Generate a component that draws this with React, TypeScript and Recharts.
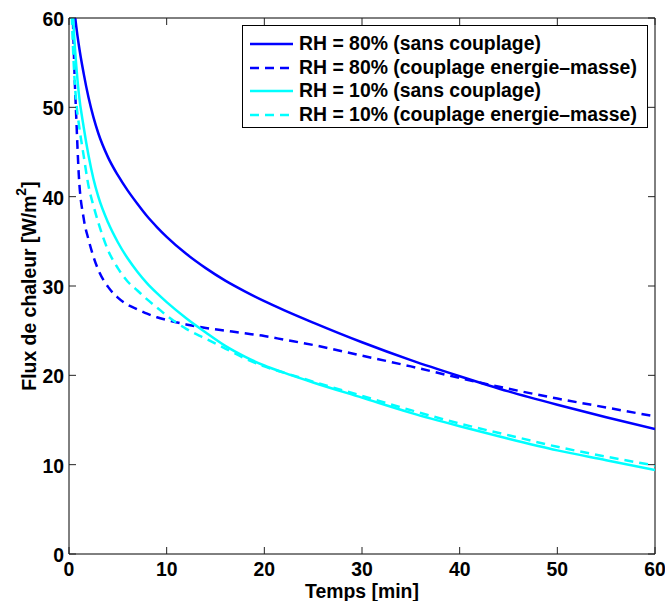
import React from 'react';
import { LineChart, Line, XAxis, YAxis, Legend, ReferenceLine } from 'recharts';

// ---- data ----
const TIMES = [0, 0.25, 0.5, 0.75, 1, 1.5, 2, 2.5, 3, 4, 5, 6, 7, 8, 9, 10, 12, 14, 16, 18, 20, 22, 25, 30, 35, 40, 45, 50, 55, 60];
const RH80_SANS = [70, 65, 61.5, 59.0, 57.0, 53.8, 51.1, 48.9, 47.1, 44.4, 42.4, 40.7, 39.2, 37.8, 36.6, 35.5, 33.6, 32.0, 30.6, 29.4, 28.3, 27.3, 25.9, 23.7, 21.7, 19.9, 18.2, 16.7, 15.3, 14.0];
const RH80_COUPL = [90, 68, 56, 48.7, 42.5, 37.6, 35.2, 33.3, 31.8, 29.9, 28.7, 27.9, 27.4, 26.9, 26.5, 26.2, 25.7, 25.3, 25.0, 24.7, 24.4, 24.0, 23.4, 22.2, 21.0, 19.7, 18.5, 17.4, 16.4, 15.4];
const RH10_SANS = [72, 64, 58.5, 54.6, 51.6, 47.8, 44.6, 42.0, 40.0, 37.1, 34.9, 33.1, 31.6, 30.3, 29.2, 28.2, 26.4, 24.8, 23.3, 22.1, 21.1, 20.3, 19.2, 17.5, 15.8, 14.3, 12.9, 11.6, 10.5, 9.4];
const RH10_COUPL = [72, 61.5, 54.5, 50.5, 48.2, 44.6, 41.2, 39.0, 37.1, 34.0, 32.0, 30.5, 29.5, 28.5, 27.6, 26.7, 25.2, 24.1, 23.0, 21.9, 21.0, 20.3, 19.3, 17.7, 16.1, 14.6, 13.3, 12.0, 10.9, 9.9];

const X_TICKS = [0, 10, 20, 30, 40, 50, 60];
const Y_TICKS = [0, 10, 20, 30, 40, 50, 60];

const SERIES = [
  { key: 'a', name: 'RH = 80% (sans couplage)', color: '#0000FF', dash: undefined as string | undefined, values: RH80_SANS },
  { key: 'b', name: 'RH = 80% (couplage energie\u2013masse)', color: '#0000FF', dash: '9 6', values: RH80_COUPL },
  { key: 'c', name: 'RH = 10% (sans couplage)', color: '#00FFFF', dash: undefined as string | undefined, values: RH10_SANS },
  { key: 'd', name: 'RH = 10% (couplage energie\u2013masse)', color: '#00FFFF', dash: '9 6', values: RH10_COUPL },
];

const data = TIMES.map((t, i) => {
  const row: Record<string, number> = { t };
  SERIES.forEach((s) => { row[s.key] = s.values[i]; });
  return row;
});

// ---- layout ----
const W = 665;
const H = 601;
const MARGIN = { top: 18, right: 10, bottom: 0, left: 0 };
const Y_AXIS_W = 69;
const X_AXIS_H = 47;
const PLOT_W = W - MARGIN.right - Y_AXIS_W;
const PLOT_H = H - MARGIN.top - X_AXIS_H;
const TICK_LEN = 7;
const FONT = '"Liberation Sans", Arial, Helvetica, sans-serif';
const FS = 19.4;
const textStyle: React.CSSProperties = { fontFamily: FONT, fontWeight: 'bold', fontSize: FS };

const XTick = (props: any) => {
  const { x, y, payload } = props;
  return (
    <g>
      <line x1={x} y1={y} x2={x} y2={y - TICK_LEN} stroke="#222" strokeWidth={1} />
      <line x1={x} y1={y - PLOT_H} x2={x} y2={y - PLOT_H + TICK_LEN} stroke="#222" strokeWidth={1} />
      <text x={x} y={y + 8} dy="0.71em" textAnchor="middle" fill="#000" style={textStyle}>{payload.value}</text>
    </g>
  );
};

const YTick = (props: any) => {
  const { x, y, payload } = props;
  return (
    <g>
      <line x1={x} y1={y} x2={x + TICK_LEN} y2={y} stroke="#222" strokeWidth={1} />
      <line x1={x + PLOT_W} y1={y} x2={x + PLOT_W - TICK_LEN} y2={y} stroke="#222" strokeWidth={1} />
      <text x={x - 5} y={y + 1} dy="0.355em" textAnchor="end" fill="#000" style={textStyle}>{payload.value}</text>
    </g>
  );
};

const XLabel = () => (
  <text x={Y_AXIS_W + PLOT_W / 2} y={H - 3} textAnchor="middle" fill="#000" style={textStyle}>Temps [min]</text>
);

const YLabel = () => {
  const cx = 29;
  const cy = MARGIN.top + PLOT_H / 2;
  return (
    <text x={cx} y={cy} transform={`rotate(-90 ${cx} ${cy})`} textAnchor="middle" dominantBaseline="central" fill="#000" style={textStyle}>
      Flux de chaleur [W/m<tspan dy={-8} fontSize={14}>2</tspan><tspan dy={8}>]</tspan>
    </text>
  );
};

const LegendBox = () => (
  <div
    style={{
      boxSizing: 'border-box',
      width: 406,
      height: 103,
      border: '1px solid #000',
      background: '#fff',
      paddingTop: 6,
      fontFamily: FONT,
      fontWeight: 'bold',
      fontSize: FS,
      color: '#000',
    }}
  >
    {SERIES.map((s) => (
      <div key={s.key} style={{ display: 'flex', alignItems: 'center', height: 23.7, whiteSpace: 'nowrap' }}>
        <svg width={56} height={10} style={{ flex: 'none', display: 'block' }}>
          <line x1={7} y1={5} x2={50} y2={5} stroke={s.color} strokeWidth={2.5} strokeDasharray={s.dash} />
        </svg>
        <span style={{ lineHeight: '23.7px' }}>{s.name}</span>
      </div>
    ))}
  </div>
);

export default function App() {
  return (
    <div style={{ position: 'absolute', left: 0, top: 0, width: W, height: H, background: '#fff' }}>
      <LineChart width={W} height={H} data={data} margin={MARGIN}>
        <XAxis
          dataKey="t"
          type="number"
          domain={[0, 60]}
          ticks={X_TICKS}
          interval={0}
          allowDataOverflow
          height={X_AXIS_H}
          tickSize={0}
          tickMargin={0}
          tickLine={false}
          tick={<XTick />}
          axisLine={{ stroke: '#000', strokeWidth: 1 }}
          label={XLabel}
        />
        <YAxis
          type="number"
          domain={[0, 60]}
          ticks={Y_TICKS}
          interval={0}
          allowDataOverflow
          width={Y_AXIS_W}
          tickSize={0}
          tickMargin={0}
          tickLine={false}
          tick={<YTick />}
          axisLine={{ stroke: '#000', strokeWidth: 1 }}
          label={YLabel}
        />
        <ReferenceLine y={60} stroke="#000" strokeWidth={1} />
        <ReferenceLine x={60} stroke="#000" strokeWidth={1} />
        {SERIES.map((s) => (
          <Line
            key={s.key}
            dataKey={s.key}
            name={s.name}
            type="monotone"
            stroke={s.color}
            strokeWidth={2.5}
            strokeDasharray={s.dash}
            dot={false}
            activeDot={false}
            isAnimationActive={false}
          />
        ))}
        <Legend
          layout="vertical"
          align="center"
          verticalAlign="middle"
          wrapperStyle={{ left: 242, top: 25, width: 406, height: 103 }}
          content={<LegendBox />}
        />
      </LineChart>
    </div>
  );
}
